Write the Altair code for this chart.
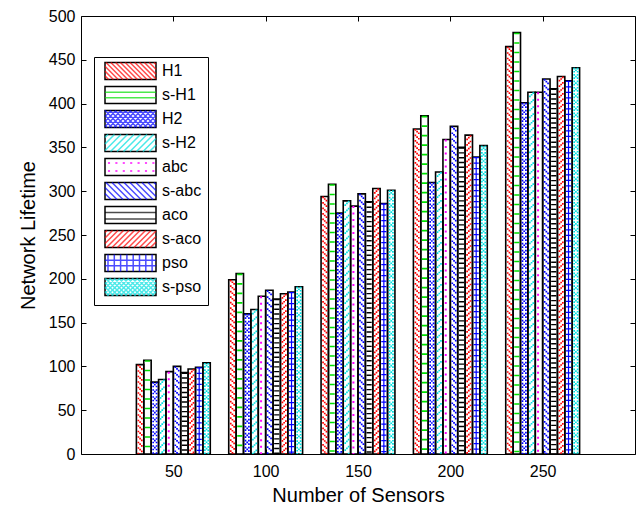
import altair as alt
import numpy as np
import pandas as pd

# ---------------- data ----------------
sensors = [50, 100, 150, 200, 250]
series = ["H1", "s-H1", "H2", "s-H2", "abc", "s-abc", "aco", "s-aco", "pso", "s-pso"]
H1 = [102, 199, 294, 371, 465]
sH1 = [107, 206, 308, 386, 481]
H2 = [82, 160, 275, 310, 401]
sH2 = [85, 165, 289, 322, 413]
abc = [94, 180, 283, 359, 413]
sabc = [100, 187, 297, 374, 428]
aco = [93, 177, 288, 350, 417]
saco = [97, 183, 303, 364, 431]
pso = [99, 185, 286, 339, 426]
spso = [104, 191, 301, 352, 441]
y_ticks = [0, 50, 100, 150, 200, 250, 300, 350, 400, 450, 500]

series_values = [H1, sH1, H2, sH2, abc, sabc, aco, saco, pso, spso]
rows = []
for i, (name, vals) in enumerate(zip(series, series_values)):
    for s, v in zip(sensors, vals):
        rows.append({"sensors": s, "series": name, "idx": i, "value": v})
df = pd.DataFrame(rows)

RED, GREEN, BLUE, CYAN, MAG, BLK = "#ff0000", "#00e000", "#0000ff", "#00e0e0", "#ff00ff", "#000000"
colors = [RED, GREEN, BLUE, CYAN, MAG, BLUE, BLK, RED, BLUE, CYAN]

# ---------------- hatch styles inside bars (pixel styles) ----------------
D = 1.7


def diag(direction, P):
    out = []
    for j in (-1, 0, 1):
        s = (j + 1) * D if direction == "back" else (1 - j) * D
        out.append(dict(xOffset=j * D, strokeWidth=D, strokeDash=[D, round(P - D, 3)],
                        strokeDashOffset=round((P - s) % P, 3)))
    return out


def cross(P):
    return [dict(xOffset=-D, strokeWidth=D, strokeDash=[D, round(P / 2 - D, 3)]),
            dict(xOffset=D, strokeWidth=D, strokeDash=[D, round(P / 2 - D, 3)]),
            dict(xOffset=0, strokeWidth=D, strokeDash=[D, round(P - D, 3)], strokeDashOffset=round(P - D, 3))]


def hl(P, lw):
    return [dict(xOffset=0, strokeWidth=5.2, strokeDash=[lw, round(P - lw, 3)])]


bar_pat = {
    "H1": diag("back", 5.5),
    "s-H1": hl(9.5, 1.6),
    "H2": cross(7.0),
    "s-H2": diag("fwd", 7.0),
    "abc": [dict(xOffset=-0.9, strokeWidth=2.0, strokeDash=[2.0, 4.5])],
    "s-abc": diag("back", 6.0),
    "aco": hl(4.8, 1.4),
    "s-aco": diag("fwd", 5.5),
    "pso": hl(5.5, 1.3) + [dict(xOffset=0, strokeWidth=1.2)],
    "s-pso": cross(6.4),
}

# ---------------- legend swatch hatch paths ----------------
W, H = 51.0, 17.0
SYM = 12.0          # nominal symbol diameter; path units are SYM/2 pixels
U = SYM / 2
SW = 1.5            # same stroke width for both overlaid legends


def P(x, y):
    return f"{(x - W / 2) / U:.3f},{(y - H / 2) / U:.3f}"


def seg(x0, y0, x1, y1):
    return f"M{P(x0, y0)}L{P(x1, y1)}"


# invisible tiny segments at the swatch corners so every hatch symbol has the same extent
corners = seg(0, 0, 0.01, 0) + seg(W - 0.01, H, W, H)


def back(s, ph=0.0):
    out = ""
    for c in np.arange(-W + ph, H, s):
        x0, x1 = max(0.0, -c), min(W, H - c)
        if x1 - x0 > 0.3:
            out += seg(x0, x0 + c, x1, x1 + c)
    return out


def fwd(s, ph=0.0):
    out = ""
    for c in np.arange(ph, W + H, s):
        x0, x1 = max(0.0, c - H), min(W, c)
        if x1 - x0 > 0.3:
            out += seg(x0, c - x0, x1, c - x1)
    return out


def hline(y):
    return seg(0, y, W, y)


def vline(x):
    return seg(x, 0, x, H)


def dot(x, y):
    r = 0.3
    return f"M{P(x - r, y - r)}L{P(x + r, y - r)}L{P(x + r, y + r)}L{P(x - r, y + r)}Z"


leg_paths = [
    corners + back(4.8, 2.0),
    corners + hline(5.8) + hline(11.2),
    corners + back(5.0, 1.0) + fwd(5.0, 1.0),
    corners + fwd(6.5, 3.0),
    corners + "".join(dot(4 + 7.4 * k, y) for k in range(7) for y in (4.5, 12.5)),
    corners + back(6.0, 2.0),
    corners + hline(6.0) + hline(12.5),
    corners + fwd(5.5, 2.0),
    corners + "".join(vline(3 + 6.3 * k) for k in range(8)) + hline(5.7) + hline(11.3),
    corners + back(4.5, 1.0) + fwd(4.5, 1.0),
]

rect_path = "M" + P(0, 0) + "L" + P(W, 0) + "L" + P(W, H) + "L" + P(0, H) + "Z"

common = dict(orient="none", legendX=13, legendY=41, padding=6, symbolOffset=22.5,
              symbolSize=SYM * SYM, rowPadding=0, labelFontSize=16, labelOffset=23.5,
              labelFont="Liberation Sans", title=None, labelLimit=200, direction="vertical",
              symbolStrokeWidth=SW)

legA = alt.Legend(symbolType=rect_path, symbolStrokeColor="black",
                  symbolFillColor="transparent", strokeColor="black", labelColor="black",
                  **common)
legB = alt.Legend(labelOpacity=0, labelExpr="' '", **common)

# ---------------- scales / axes ----------------
xs = alt.Scale(domain=[0, 300], nice=False, zero=False)
ys = alt.Scale(domain=[0, 500], nice=False)
axis_style = dict(labelFontSize=16, titleFontSize=20, titleFontWeight="normal", tickSize=5,
                  offset=-5, domain=False, grid=False, tickColor="black",
                  labelColor="black", titleColor="black")
xaxis = alt.Axis(values=sensors, title="Number of Sensors", format="d",
                 labelPadding=9, titlePadding=6, **axis_style)
yaxis = alt.Axis(values=y_ticks, title="Network Lifetime", format="d",
                 labelPadding=6, titlePadding=10, **axis_style)
xaxis_top = alt.Axis(values=sensors, orient="top", labels=False, title=None, **axis_style)
yaxis_right = alt.Axis(values=y_ticks, orient="right", labels=False, title=None, **axis_style)

base = alt.Chart(df)

bars = base.transform_calculate(
    x_lo="datum.sensors + (datum.idx - 5) * 4",
    x_hi="datum.sensors + (datum.idx - 4) * 4",
    lbl="datum.series",
).mark_bar(fill="transparent", stroke="black", strokeWidth=1.6).encode(
    x=alt.X("x_lo:Q", scale=xs, axis=xaxis),
    x2="x_hi:Q",
    y=alt.Y("value:Q", scale=ys, axis=yaxis),
    y2=alt.datum(0),
    opacity=alt.Opacity("lbl:N", sort=series, scale=alt.Scale(range=[1, 1]), legend=legA),
)

pat_layers = []
first = True
for i, name in enumerate(series):
    for spec in bar_pat[name]:
        xa = xaxis_top if first else None
        ya = yaxis_right if first else None
        first = False
        pat_layers.append(
            base.transform_filter(alt.datum.series == name)
            .transform_calculate(xc="datum.sensors + (datum.idx - 4.5) * 4")
            .mark_rule(color=colors[i], **spec)
            .encode(x=alt.X("xc:Q", scale=xs, axis=xa),
                    y=alt.Y("value:Q", scale=ys, axis=ya),
                    y2=alt.datum(0))
        )

legend_layer = base.transform_filter("false").mark_point(filled=False, strokeWidth=SW).encode(
    shape=alt.Shape("series:N", scale=alt.Scale(domain=series, range=leg_paths), legend=legB),
    color=alt.Color("series:N", scale=alt.Scale(domain=series, range=colors), legend=legB),
)

chart = alt.layer(bars, *pat_layers, legend_layer).resolve_axis(
    x="independent", y="independent"
).properties(
    width=554, height=438,
    autosize=alt.AutoSizeParams(type="none"),
    padding={"left": 81, "top": 16, "right": 5, "bottom": 53},
).configure(font="Liberation Sans").configure_view(stroke="black", strokeWidth=1)

chart.save("out.html", embed_options={"renderer": "svg", "actions": False})
